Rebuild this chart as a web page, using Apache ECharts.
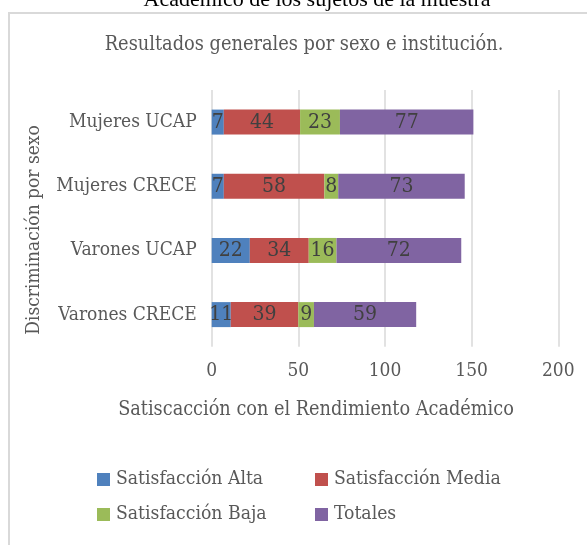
<!DOCTYPE html>
<html>
<head>
<meta charset="utf-8">
<script src="https://cdn.jsdelivr.net/npm/echarts@6/dist/echarts.min.js"></script>
<style>
  html, body { margin: 0; padding: 0; background: #fff; }
  #chart { width: 587px; height: 545px; }
</style>
</head>
<body>
<div id="chart"></div>
<script>
// categorías (de abajo hacia arriba, como las pinta el eje)
var categorias = ['Varones CRECE', 'Varones UCAP', 'Mujeres CRECE', 'Mujeres UCAP'];
var satAlta = [11, 22, 7, 7];
var satMedia = [39, 34, 58, 44];
var satBaja = [9, 16, 8, 23];
var totales = [59, 72, 73, 77];
var nombresSeries = ['Satisfacción Alta', 'Satisfacción Media', 'Satisfacción Baja', 'Totales'];
var colores = ['#4f81bd', '#c0504d', '#9bbb59', '#8064a2'];
var ticksX = [0, 50, 100, 150, 200];

var fuente = '"DejaVu Serif Condensed", "DejaVu Serif"';
var gris = '#595959';

var chart = echarts.init(document.getElementById('chart'));

function serie(nombre, datos, i) {
  return {
    name: nombre,
    type: 'bar',
    stack: 'total',
    barWidth: 25,
    data: datos,
    itemStyle: { color: colores[i] },
    label: {
      show: true,
      position: 'inside',
      color: '#404040',
      fontFamily: fuente,
      fontSize: 21
    }
  };
}

// leyenda: una por elemento para fijar las dos columnas
var posLeyenda = [[92, 465], [310, 465], [92, 500], [310, 500]];
var leyendas = nombresSeries.map(function (n, i) {
  return {
    data: [n],
    left: posLeyenda[i][0],
    top: posLeyenda[i][1],
    itemWidth: 13,
    itemHeight: 13,
    itemGap: 6,
    icon: 'rect',
    selectedMode: false,
    textStyle: { color: gris, fontFamily: fuente, fontSize: 19.2, padding: [0, 0, 0, 1] }
  };
});

chart.setOption({
  animation: false,
  backgroundColor: '#fff',
  grid: { left: 211.7, right: 28.7, top: 90, bottom: 198.3 },
  legend: leyendas,
  xAxis: {
    type: 'value',
    min: ticksX[0],
    max: ticksX[ticksX.length - 1],
    interval: 50,
    axisLine: { show: false },
    axisTick: { show: false },
    axisLabel: { color: gris, fontFamily: fuente, fontSize: 19, margin: 15 },
    splitLine: { lineStyle: { color: '#d9d9d9', width: 1.5 } }
  },
  yAxis: {
    type: 'category',
    data: categorias,
    axisLine: { show: false },
    axisTick: { show: false },
    axisLabel: { color: gris, fontFamily: fuente, fontSize: 19, margin: 15 }
  },
  series: [
    serie(nombresSeries[0], satAlta, 0),
    serie(nombresSeries[1], satMedia, 1),
    serie(nombresSeries[2], satBaja, 2),
    serie(nombresSeries[3], totales, 3)
  ],
  graphic: [
    {
      type: 'rect',
      shape: { x: 9, y: 13, width: 620, height: 560 },
      style: { fill: 'none', stroke: '#d9d9d9', lineWidth: 2 },
      silent: true
    },
    {
      type: 'text',
      x: 317, y: 0,
      style: {
        text: 'Académico de los sujetos de la muestra',
        fill: '#000',
        font: '22px "Liberation Serif"',
        align: 'center',
        verticalAlign: 'middle'
      }
    },
    {
      type: 'text',
      x: 304, y: 45,
      style: {
        text: 'Resultados generales por sexo e institución.',
        fill: gris,
        font: '19.8px ' + fuente,
        align: 'center',
        verticalAlign: 'middle'
      }
    },
    {
      type: 'text',
      x: 316, y: 410,
      style: {
        text: 'Satiscacción con el Rendimiento Académico',
        fill: gris,
        font: '19.7px ' + fuente,
        align: 'center',
        verticalAlign: 'middle'
      }
    },
    {
      type: 'text',
      x: 34, y: 230,
      rotation: Math.PI / 2,
      style: {
        text: 'Discriminación por sexo',
        fill: gris,
        font: '19px ' + fuente,
        align: 'center',
        verticalAlign: 'middle'
      }
    }
  ]
});
</script>
</body>
</html>
